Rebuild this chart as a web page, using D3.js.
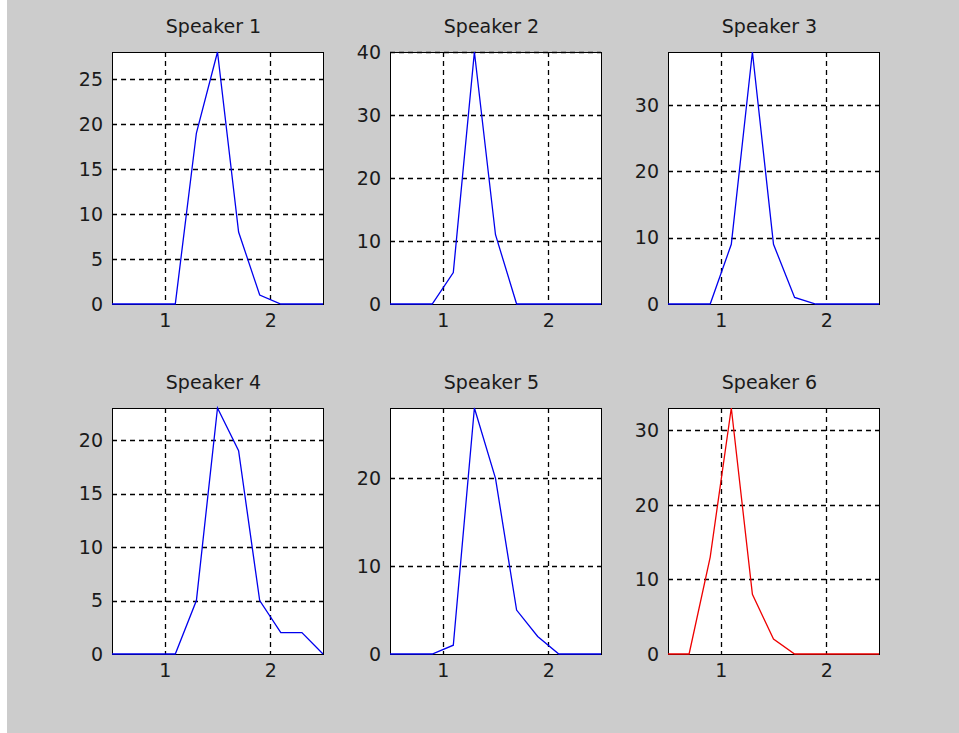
<!DOCTYPE html>
<html>
<head>
<meta charset="utf-8">
<script src="https://cdn.jsdelivr.net/npm/d3@7"></script>
<style>
  body { margin: 0; background: #ffffff; }
  svg { display: block; }
  text { font-family: "DejaVu Sans", sans-serif; font-size: 19px; fill: #1a1a1a; }
</style>
</head>
<body>
<div id="chart"></div>
<script>
// histogram bins (x) and counts per speaker
var bins = [0.5, 0.7, 0.9, 1.1, 1.3, 1.5, 1.7, 1.9, 2.1, 2.3, 2.5];

var speaker1 = [0, 0, 0, 0, 19, 28, 8, 1, 0, 0, 0];
var speaker2 = [0, 0, 0, 5, 40, 11, 0, 0, 0, 0, 0];
var speaker3 = [0, 0, 0, 9, 38, 9, 1, 0, 0, 0, 0];
var speaker4 = [0, 0, 0, 0, 5, 23, 19, 5, 2, 2, 0];
var speaker5 = [0, 0, 0, 1, 28, 20, 5, 2, 0, 0, 0];
var speaker6 = [0, 0, 13, 33, 8, 2, 0, 0, 0, 0, 0];

var titles = ["Speaker 1", "Speaker 2", "Speaker 3", "Speaker 4", "Speaker 5", "Speaker 6"];
var series = [speaker1, speaker2, speaker3, speaker4, speaker5, speaker6];
var colors = ["#0000ee", "#0000ee", "#0000ee", "#0000ee", "#0000ee", "#ee0000"];

var xTicks = [1, 2];
var yTicks = [
    [0, 5, 10, 15, 20, 25],
    [0, 10, 20, 30, 40],
    [0, 10, 20, 30],
    [0, 5, 10, 15, 20],
    [0, 10, 20],
    [0, 10, 20, 30]
];

var width = 959;
var height = 733;

var colLeft = [112, 390, 668];
var rowTop = [52, 408];
var rowHeight = [252, 246];
var axW = 211;

var svg = d3.select("#chart").append("svg").attr("width", width).attr("height", height);

// figure background (white strip on the far left like the screenshot)
svg.append("rect").attr("x", 0).attr("y", 0).attr("width", width).attr("height", height).attr("fill", "#ffffff");
svg.append("rect").attr("x", 7).attr("y", 0).attr("width", width - 7).attr("height", height).attr("fill", "#cccccc");

series.forEach(function(vals, i) {
    var col = i % 3;
    var row = Math.floor(i / 3);
    var h = rowHeight[row];

    var g = svg.append("g").attr("transform", "translate(" + colLeft[col] + "," + rowTop[row] + ")");

    var x = d3.scaleLinear().domain([0.5, 2.5]).range([0, axW]);
    var y = d3.scaleLinear().domain([0, d3.max(vals)]).range([h, 0]);

    g.append("rect").attr("width", axW).attr("height", h).attr("fill", "#ffffff");

    // dashed grid
    g.selectAll(".vgrid").data(xTicks).enter().append("line")
        .attr("x1", function(d) { return Math.round(x(d)) + 0.5; })
        .attr("x2", function(d) { return Math.round(x(d)) + 0.5; })
        .attr("y1", 0).attr("y2", h)
        .attr("stroke", "#000").attr("stroke-width", 1.3).attr("stroke-dasharray", "5,4");
    g.selectAll(".hgrid").data(yTicks[i].filter(function(d) { return d > 0; })).enter().append("line")
        .attr("x1", 0).attr("x2", axW)
        .attr("y1", function(d) { return Math.round(y(d)) + 0.5; })
        .attr("y2", function(d) { return Math.round(y(d)) + 0.5; })
        .attr("stroke", "#000").attr("stroke-width", 1.3).attr("stroke-dasharray", "5,4");

    // axes box
    g.append("rect").attr("x", 0.5).attr("y", 0.5).attr("width", axW).attr("height", h)
        .attr("fill", "none").attr("stroke", "#000").attr("stroke-width", 1);

    var line = d3.line()
        .x(function(d, k) { return x(bins[k]); })
        .y(function(d) { return y(d); });

    g.append("path").attr("d", line(vals))
        .attr("fill", "none").attr("stroke", colors[i]).attr("stroke-width", 1.3);

    // axis labels, MATLAB style (no domain line, ticks hidden under grid)
    var xAxis = d3.axisBottom(x).tickValues(xTicks).tickSize(0).tickPadding(10).tickFormat(d3.format("d"));
    var yAxis = d3.axisLeft(y).tickValues(yTicks[i]).tickSize(0).tickPadding(9).tickFormat(d3.format("d"));

    var gx = g.append("g").attr("transform", "translate(0," + h + ")").call(xAxis);
    var gy = g.append("g").call(yAxis);
    gx.select(".domain").remove();
    gy.select(".domain").remove();
    g.selectAll(".tick text").style("font-family", "DejaVu Sans, sans-serif").style("font-size", "19px").attr("fill", "#1a1a1a");

    g.append("text").attr("x", axW / 2 - 4).attr("y", -19)
        .attr("text-anchor", "middle").text(titles[i]);
});
</script>
</body>
</html>
